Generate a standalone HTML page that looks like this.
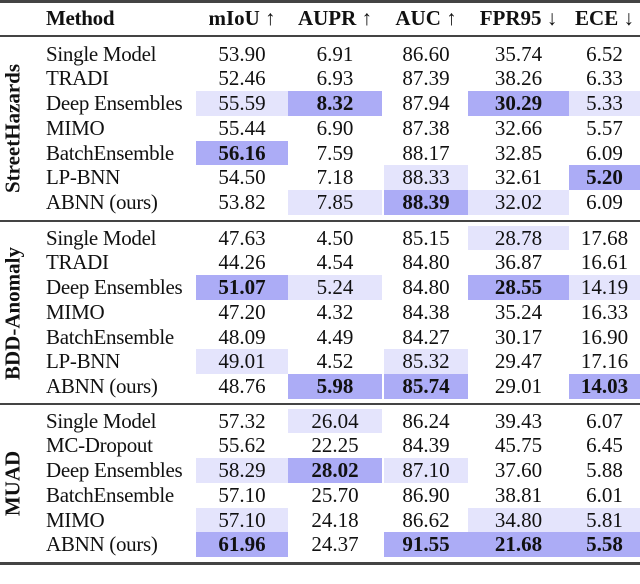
<!DOCTYPE html>
<html><head><meta charset="utf-8"><style>
body{margin:0;background:#fff;width:640px;height:567px;position:relative;overflow:hidden;font-family:"Liberation Serif",serif;font-size:21px;color:#111}
.r{position:absolute;left:0;width:640px;height:24.8px;line-height:25px}
.r span{position:absolute;top:0;height:24.8px;text-align:center}
.m{left:46px;text-align:left!important;letter-spacing:-0.3px}
.c1{left:196px;width:92px}.c2{left:288px;width:94px}.c3{left:384px;width:84px}.c4{left:468px;width:101px}.c5{left:569px;width:71px}
.s{background:#acacf6;font-weight:bold}.l{background:#e4e4fc}
.h{font-weight:bold}
.rule{position:absolute;left:0;width:640px;height:2px;background:#444}
.g{position:absolute;font-weight:bold;transform:rotate(-90deg);white-space:nowrap;text-align:center;width:200px;left:-87px;font-size:21px}
</style></head><body>
<div class="rule" style="top:0px;height:3px"></div>
<div class="r h" style="top:6px"><span class="m">Method</span><span class="c1">mIoU ↑</span><span class="c2">AUPR ↑</span><span class="c3">AUC ↑</span><span class="c4">FPR95 ↓</span><span class="c5">ECE ↓</span></div>
<div class="rule" style="top:35px"></div>

<div class="g" style="top:116px">StreetHazards</div>
<div class="r" style="top:41.6px"><span class="m">Single Model</span><span class="c1">53.90</span><span class="c2">6.91</span><span class="c3">86.60</span><span class="c4">35.74</span><span class="c5">6.52</span></div>
<div class="r" style="top:66.4px"><span class="m">TRADI</span><span class="c1">52.46</span><span class="c2">6.93</span><span class="c3">87.39</span><span class="c4">38.26</span><span class="c5">6.33</span></div>
<div class="r" style="top:91.1px"><span class="m">Deep Ensembles</span><span class="c1 l">55.59</span><span class="c2 s">8.32</span><span class="c3">87.94</span><span class="c4 s">30.29</span><span class="c5 l">5.33</span></div>
<div class="r" style="top:115.9px"><span class="m">MIMO</span><span class="c1">55.44</span><span class="c2">6.90</span><span class="c3">87.38</span><span class="c4">32.66</span><span class="c5">5.57</span></div>
<div class="r" style="top:140.6px"><span class="m">BatchEnsemble</span><span class="c1 s">56.16</span><span class="c2">7.59</span><span class="c3">88.17</span><span class="c4">32.85</span><span class="c5">6.09</span></div>
<div class="r" style="top:165.4px"><span class="m">LP-BNN</span><span class="c1">54.50</span><span class="c2">7.18</span><span class="c3 l">88.33</span><span class="c4">32.61</span><span class="c5 s">5.20</span></div>
<div class="r" style="top:190.1px"><span class="m">ABNN (ours)</span><span class="c1">53.82</span><span class="c2 l">7.85</span><span class="c3 s">88.39</span><span class="c4 l">32.02</span><span class="c5">6.09</span></div>
<div class="rule" style="top:220px"></div>

<div class="g" style="top:301px">BDD-Anomaly</div>
<div class="r" style="top:225.6px"><span class="m">Single Model</span><span class="c1">47.63</span><span class="c2">4.50</span><span class="c3">85.15</span><span class="c4 l">28.78</span><span class="c5">17.68</span></div>
<div class="r" style="top:250.4px"><span class="m">TRADI</span><span class="c1">44.26</span><span class="c2">4.54</span><span class="c3">84.80</span><span class="c4">36.87</span><span class="c5">16.61</span></div>
<div class="r" style="top:275.1px"><span class="m">Deep Ensembles</span><span class="c1 s">51.07</span><span class="c2 l">5.24</span><span class="c3">84.80</span><span class="c4 s">28.55</span><span class="c5 l">14.19</span></div>
<div class="r" style="top:299.9px"><span class="m">MIMO</span><span class="c1">47.20</span><span class="c2">4.32</span><span class="c3">84.38</span><span class="c4">35.24</span><span class="c5">16.33</span></div>
<div class="r" style="top:324.6px"><span class="m">BatchEnsemble</span><span class="c1">48.09</span><span class="c2">4.49</span><span class="c3">84.27</span><span class="c4">30.17</span><span class="c5">16.90</span></div>
<div class="r" style="top:349.4px"><span class="m">LP-BNN</span><span class="c1 l">49.01</span><span class="c2">4.52</span><span class="c3 l">85.32</span><span class="c4">29.47</span><span class="c5">17.16</span></div>
<div class="r" style="top:374.1px"><span class="m">ABNN (ours)</span><span class="c1">48.76</span><span class="c2 s">5.98</span><span class="c3 s">85.74</span><span class="c4">29.01</span><span class="c5 s">14.03</span></div>
<div class="rule" style="top:403px"></div>

<div class="g" style="top:471px">MUAD</div>
<div class="r" style="top:408.6px"><span class="m">Single Model</span><span class="c1">57.32</span><span class="c2 l">26.04</span><span class="c3">86.24</span><span class="c4">39.43</span><span class="c5">6.07</span></div>
<div class="r" style="top:433.4px"><span class="m">MC-Dropout</span><span class="c1">55.62</span><span class="c2">22.25</span><span class="c3">84.39</span><span class="c4">45.75</span><span class="c5">6.45</span></div>
<div class="r" style="top:458.1px"><span class="m">Deep Ensembles</span><span class="c1 l">58.29</span><span class="c2 s">28.02</span><span class="c3 l">87.10</span><span class="c4">37.60</span><span class="c5">5.88</span></div>
<div class="r" style="top:482.9px"><span class="m">BatchEnsemble</span><span class="c1">57.10</span><span class="c2">25.70</span><span class="c3">86.90</span><span class="c4">38.81</span><span class="c5">6.01</span></div>
<div class="r" style="top:507.6px"><span class="m">MIMO</span><span class="c1 l">57.10</span><span class="c2">24.18</span><span class="c3">86.62</span><span class="c4 l">34.80</span><span class="c5 l">5.81</span></div>
<div class="r" style="top:532.4px"><span class="m">ABNN (ours)</span><span class="c1 s">61.96</span><span class="c2">24.37</span><span class="c3 s">91.55</span><span class="c4 s">21.68</span><span class="c5 s">5.58</span></div>
<div class="rule" style="top:562px;height:3px"></div>
</body></html>
